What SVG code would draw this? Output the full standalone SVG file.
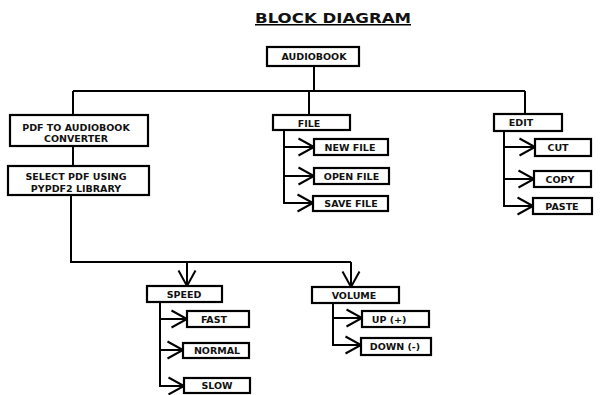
<svg xmlns="http://www.w3.org/2000/svg" width="600" height="395" viewBox="0 0 600 395">
<style>
.box{fill:#fff;stroke:#000;stroke-width:2.2}
.lbl{font-family:"DejaVu Sans",sans-serif;font-weight:bold;font-size:9.5px;text-anchor:middle;fill:#111}
.ttl{font-family:"DejaVu Sans",sans-serif;font-weight:bold;font-size:14px;text-anchor:middle;fill:#111}
.ln{fill:none;stroke:#000;stroke-width:2}
</style>
<defs>
<marker id="arr" markerUnits="userSpaceOnUse" viewBox="-18 -11 21 22" refX="0" refY="0" markerWidth="21" markerHeight="22" orient="auto">
<path d="M-15.5,-8.5 L0,0 L-15.5,8.5" fill="none" stroke="#000" stroke-width="2"/>
</marker>
</defs>
<rect width="600" height="395" fill="#fff"/>
<g id="title">
<text class="ttl" x="333" y="22.5" textLength="156" lengthAdjust="spacingAndGlyphs">BLOCK  DIAGRAM</text>
<line x1="255" y1="24.8" x2="411" y2="24.8" stroke="#000" stroke-width="1.6"/>
</g>
<g id="connectors">
<path class="ln" d="M314,66 V91"/>
<path class="ln" d="M73,91 H525"/>
<path class="ln" d="M73,91 V115"/>
<path class="ln" d="M309,91 V115"/>
<path class="ln" d="M525,91 V114"/>
<path class="ln" d="M73,146 V166"/>
<path class="ln" d="M71,195 V262 H351"/>
<path class="ln" d="M187,262 V286" marker-end="url(#arr)"/>
<path class="ln" d="M351,262 V287" marker-end="url(#arr)"/>
<path class="ln" d="M284,130 V203"/>
<path class="ln" d="M283,147 H314" marker-end="url(#arr)"/>
<path class="ln" d="M283,176 H314" marker-end="url(#arr)"/>
<path class="ln" d="M283,203 H313" marker-end="url(#arr)"/>
<path class="ln" d="M504,131 V206"/>
<path class="ln" d="M503,147 H535" marker-end="url(#arr)"/>
<path class="ln" d="M503,179 H534" marker-end="url(#arr)"/>
<path class="ln" d="M503,206 H533" marker-end="url(#arr)"/>
<path class="ln" d="M160,302 V386"/>
<path class="ln" d="M159,319 H187" marker-end="url(#arr)"/>
<path class="ln" d="M159,350 H183" marker-end="url(#arr)"/>
<path class="ln" d="M159,386 H184" marker-end="url(#arr)"/>
<path class="ln" d="M333,303 V345"/>
<path class="ln" d="M332,318 H362" marker-end="url(#arr)"/>
<path class="ln" d="M332,345 H361" marker-end="url(#arr)"/>
</g>
<g id="audiobook"><rect class="box" x="267" y="47" width="92" height="19"/><text class="lbl" x="314" y="60">AUDIOBOOK</text></g>
<g id="pdf-converter"><rect class="box" x="10" y="115" width="138" height="31"/><text class="lbl" x="76" y="130.5">PDF TO AUDIOBOOK</text><text class="lbl" x="76" y="142">CONVERTER</text></g>
<g id="select-pdf"><rect class="box" x="8" y="166" width="141" height="29"/><text class="lbl" x="76" y="180">SELECT PDF USING</text><text class="lbl" x="76" y="192">PYPDF2 LIBRARY</text></g>
<g id="file"><rect class="box" x="273" y="115" width="77" height="15"/><text class="lbl" x="309" y="126.5">FILE</text></g>
<g id="new-file"><rect class="box" x="314" y="139" width="74" height="16"/><text class="lbl" x="350" y="150.5">NEW FILE</text></g>
<g id="open-file"><rect class="box" x="314" y="168" width="75" height="16"/><text class="lbl" x="351.5" y="179.5">OPEN FILE</text></g>
<g id="save-file"><rect class="box" x="313" y="196" width="75" height="15"/><text class="lbl" x="351" y="207">SAVE FILE</text></g>
<g id="edit"><rect class="box" x="494" y="114" width="68" height="17"/><text class="lbl" x="521" y="126">EDIT</text></g>
<g id="cut"><rect class="box" x="535" y="139" width="56" height="17"/><text class="lbl" x="558" y="151">CUT</text></g>
<g id="copy"><rect class="box" x="534" y="171" width="57" height="16"/><text class="lbl" x="560" y="183">COPY</text></g>
<g id="paste"><rect class="box" x="533" y="198" width="59" height="16"/><text class="lbl" x="562" y="210">PASTE</text></g>
<g id="speed"><rect class="box" x="147" y="286" width="75" height="16"/><text class="lbl" x="184" y="297.5">SPEED</text></g>
<g id="volume"><rect class="box" x="312" y="287" width="87" height="16"/><text class="lbl" x="354" y="298.5">VOLUME</text></g>
<g id="fast"><rect class="box" x="187" y="311" width="62" height="16"/><text class="lbl" x="214" y="322.5">FAST</text></g>
<g id="normal"><rect class="box" x="183" y="343" width="66" height="15"/><text class="lbl" x="217" y="354">NORMAL</text></g>
<g id="slow"><rect class="box" x="184" y="378" width="66" height="15"/><text class="lbl" x="217" y="389">SLOW</text></g>
<g id="up"><rect class="box" x="362" y="311" width="67" height="16"/><text class="lbl" x="389" y="322.5">UP (+)</text></g>
<g id="down"><rect class="box" x="361" y="338" width="70" height="17"/><text class="lbl" x="395" y="350">DOWN (-)</text></g>
</svg>
